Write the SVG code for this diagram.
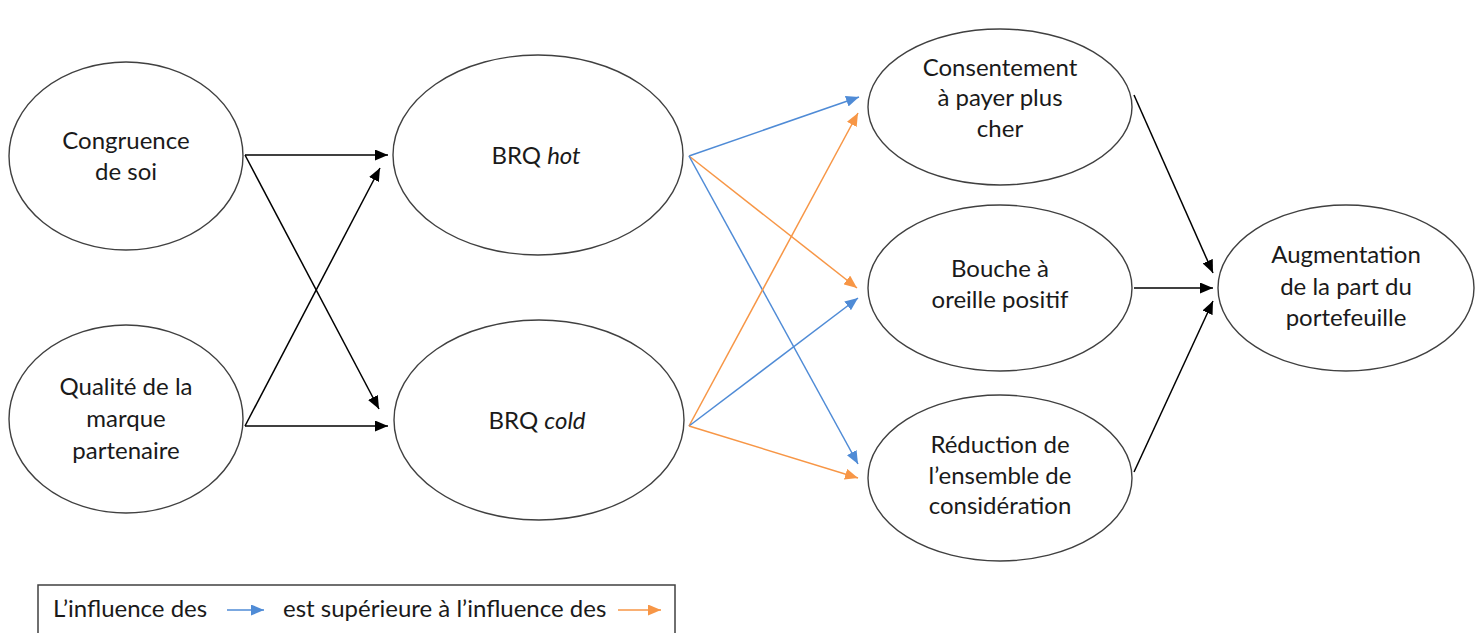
<svg xmlns="http://www.w3.org/2000/svg" width="1483" height="633" viewBox="0 0 1483 633">
<style>
.node ellipse{fill:#fff;stroke:#404040;stroke-width:1.4}
text{font-family:Lato,"Liberation Sans",sans-serif;font-size:24px;fill:#1a1a1a;text-anchor:middle}
.lg{text-anchor:start}
.k{fill:none;stroke:#000;stroke-width:1.5}
.b{fill:none;stroke:#4F8BD6;stroke-width:1.5}
.o{fill:none;stroke:#F79646;stroke-width:1.5}
</style>
<defs>
<marker id="ak" markerUnits="userSpaceOnUse" markerWidth="13" markerHeight="11" refX="13" refY="5.5" orient="auto"><path d="M0,0 L13,5.5 L0,11 z" fill="#000"/></marker>
<marker id="ab" markerUnits="userSpaceOnUse" markerWidth="13" markerHeight="11" refX="13" refY="5.5" orient="auto"><path d="M0,0 L13,5.5 L0,11 z" fill="#4F8BD6"/></marker>
<marker id="ao" markerUnits="userSpaceOnUse" markerWidth="13" markerHeight="11" refX="13" refY="5.5" orient="auto"><path d="M0,0 L13,5.5 L0,11 z" fill="#F79646"/></marker>
</defs>
<rect width="1483" height="633" fill="#fff"/>
<g id="connectors">
<path class="k" d="M245,155 L388,155" marker-end="url(#ak)"/>
<path class="k" d="M245,155 L379,409" marker-end="url(#ak)"/>
<path class="k" d="M245,426 L380,168" marker-end="url(#ak)"/>
<path class="k" d="M245,426 L388,426" marker-end="url(#ak)"/>
<path class="b" d="M689,156 L859,97" marker-end="url(#ab)"/>
<path class="o" d="M689,156 L857,288" marker-end="url(#ao)"/>
<path class="b" d="M689,156 L858,464" marker-end="url(#ab)"/>
<path class="o" d="M689,426 L858,113" marker-end="url(#ao)"/>
<path class="b" d="M689,426 L858,298" marker-end="url(#ab)"/>
<path class="o" d="M689,426 L858,478" marker-end="url(#ao)"/>
<path class="k" d="M1134,95 L1213,273" marker-end="url(#ak)"/>
<path class="k" d="M1134,288 L1213,288" marker-end="url(#ak)"/>
<path class="k" d="M1134,472 L1213,301" marker-end="url(#ak)"/>
</g>
<g id="congruence" class="node"><ellipse cx="126" cy="156" rx="117" ry="94"/><text x="126" y="149">Congruence</text><text x="126" y="180">de soi</text></g>
<g id="qualite" class="node"><ellipse cx="126" cy="419" rx="117" ry="94"/><text x="126" y="395">Qualité de la</text><text x="126" y="427">marque</text><text x="126" y="459">partenaire</text></g>
<g id="brq-hot" class="node"><ellipse cx="538" cy="155" rx="145" ry="100"/><text x="536" y="164">BRQ <tspan font-style="italic">hot</tspan></text></g>
<g id="brq-cold" class="node"><ellipse cx="539" cy="420" rx="145" ry="100"/><text x="537" y="429">BRQ <tspan font-style="italic">cold</tspan></text></g>
<g id="consentement" class="node"><ellipse cx="1000" cy="107" rx="132" ry="78"/><text x="1000" y="76">Consentement</text><text x="1000" y="106">à payer plus</text><text x="1000" y="137">cher</text></g>
<g id="bouche" class="node"><ellipse cx="1000" cy="288" rx="132" ry="83"/><text x="1000" y="277">Bouche à</text><text x="1000" y="308">oreille positif</text></g>
<g id="reduction" class="node"><ellipse cx="1000" cy="478" rx="132" ry="83"/><text x="1000" y="453">Réduction de</text><text x="1000" y="484">l’ensemble de</text><text x="1000" y="514">considération</text></g>
<g id="augmentation" class="node"><ellipse cx="1346" cy="288" rx="128" ry="83"/><text x="1346" y="263">Augmentation</text><text x="1346" y="295">de la part du</text><text x="1346" y="326">portefeuille</text></g>
<g id="legend">
<rect x="38" y="585" width="637" height="60" fill="none" stroke="#404040" stroke-width="1.5"/>
<text class="lg" x="53" y="617">L’influence des</text>
<path class="b" d="M227,610 L264,610" marker-end="url(#ab)"/>
<text class="lg" x="283" y="617">est supérieure à l’influence des</text>
<path class="o" d="M618,610 L661,610" marker-end="url(#ao)"/>
</g>
</svg>
